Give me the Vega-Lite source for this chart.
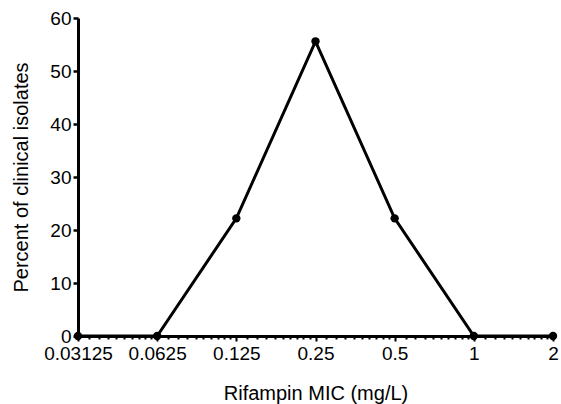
{
  "$schema": "https://vega.github.io/schema/vega-lite/v6.json",
  "width": 475,
  "height": 318,
  "autosize": {"type": "none"},
  "padding": {"left": 78, "top": 18, "right": 8, "bottom": 68},
  "background": "white",
  "config": {
    "view": {"stroke": null},
    "font": "Liberation Sans",
    "axis": {
      "labelFont": "Liberation Sans",
      "titleFont": "Liberation Sans",
      "labelColor": "black",
      "titleColor": "black",
      "domainColor": "black",
      "tickColor": "black",
      "titleFontWeight": "normal",
      "grid": false
    }
  },
  "data": {
    "values": [
      {"mic": 0.03125, "pct": 0},
      {"mic": 0.0625, "pct": 0},
      {"mic": 0.125, "pct": 22.2},
      {"mic": 0.25, "pct": 55.6},
      {"mic": 0.5, "pct": 22.2},
      {"mic": 1, "pct": 0},
      {"mic": 2, "pct": 0}
    ]
  },
  "encoding": {
    "x": {
      "field": "mic",
      "type": "quantitative",
      "scale": {"type": "log", "base": 2, "domain": [0.03125, 2], "nice": false},
      "axis": {
        "title": "Rifampin MIC (mg/L)",
        "titleFontSize": 20,
        "titlePadding": 20,
        "labelFontSize": 19,
        "labelPadding": 3,
        "labelOverlap": false,
        "labelBound": false,
        "labelFlush": false,
        "domainWidth": 3,
        "values": [0.03125, 0.034375, 0.0375, 0.040625, 0.04375, 0.046875, 0.05, 0.053125, 0.05625, 0.059375,
                   0.0625, 0.06875, 0.075, 0.08125, 0.0875, 0.09375, 0.1, 0.10625, 0.1125, 0.11875,
                   0.125, 0.1375, 0.15, 0.1625, 0.175, 0.1875, 0.2, 0.2125, 0.225, 0.2375,
                   0.25, 0.275, 0.3, 0.325, 0.35, 0.375, 0.4, 0.425, 0.45, 0.475,
                   0.5, 0.55, 0.6, 0.65, 0.7, 0.75, 0.8, 0.85, 0.9, 0.95,
                   1, 1.1, 1.2, 1.3, 1.4, 1.5, 1.6, 1.7, 1.8, 1.9, 2],
        "labelExpr": "indexof([0.03125,0.0625,0.125,0.25,0.5,1,2], datum.value) >= 0 ? '' + datum.value : ''",
        "tickSize": {"condition": {"test": "indexof([0.03125,0.0625,0.125,0.25,0.5,1,2], datum.value) >= 0", "value": 5}, "value": 3},
        "tickWidth": 2
      }
    },
    "y": {
      "field": "pct",
      "type": "quantitative",
      "scale": {"domain": [0, 60], "nice": false},
      "axis": {
        "title": "Percent of clinical isolates",
        "titleFontSize": 20,
        "titlePadding": 18,
        "labelFontSize": 19,
        "labelPadding": 2,
        "values": [0, 10, 20, 30, 40, 50, 60],
        "tickSize": 5,
        "tickWidth": 2.5,
        "domainWidth": 3
      }
    }
  },
  "layer": [
    {"mark": {"type": "line", "color": "black", "strokeWidth": 3}},
    {"mark": {"type": "point", "filled": true, "color": "black", "opacity": 1, "size": 70}}
  ]
}
